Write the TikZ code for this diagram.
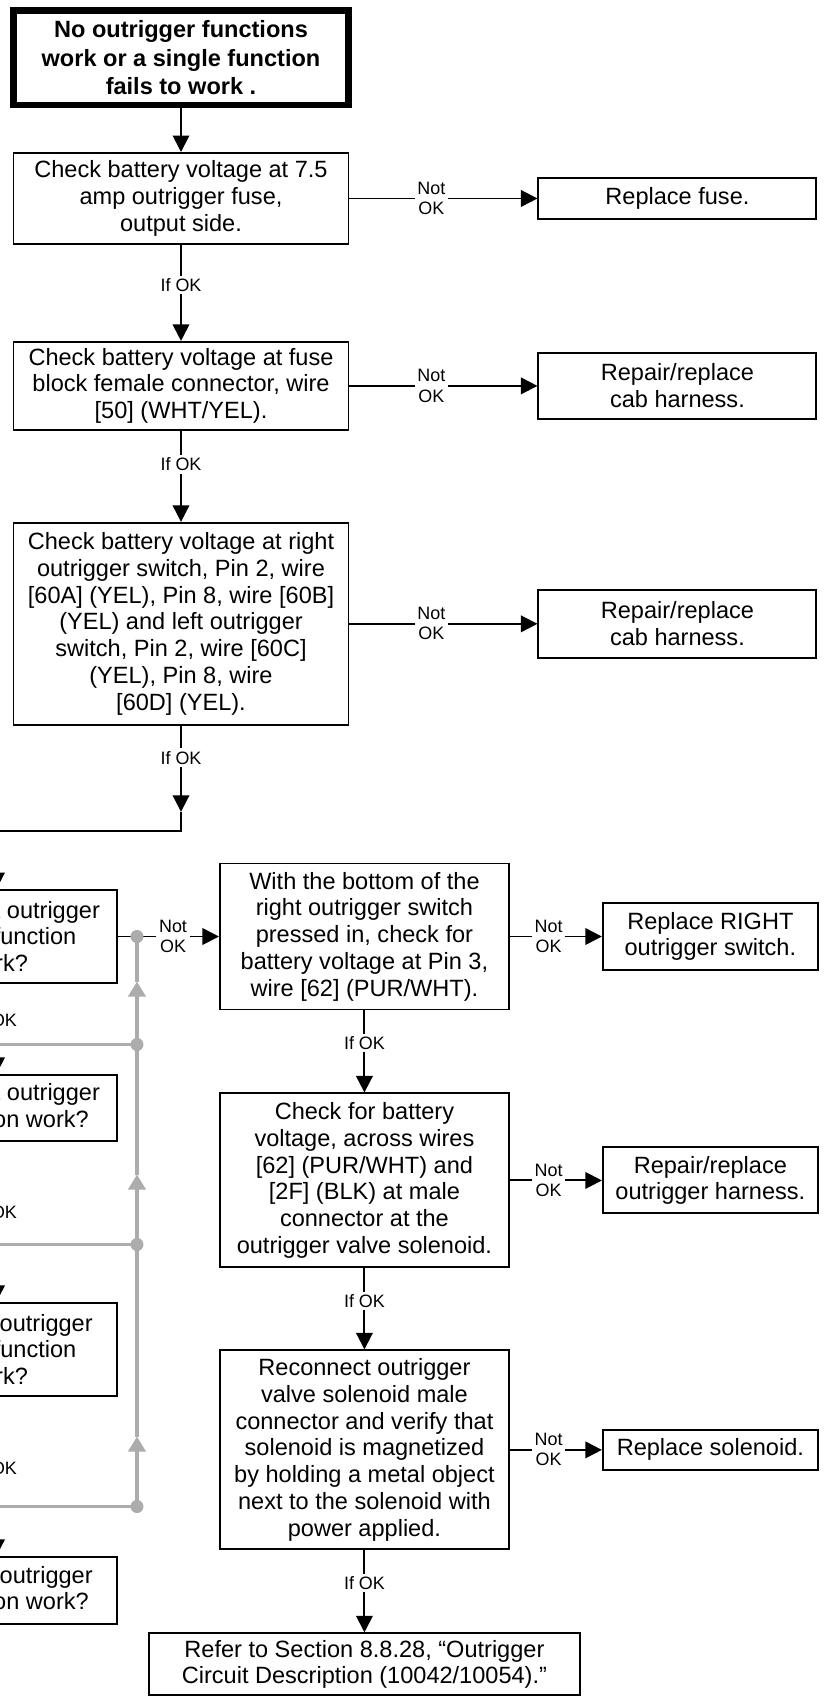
\documentclass[tikz,border=0pt]{standalone}
\usepackage{fontspec}
\setmainfont{Liberation Sans}
\usepackage{tikz}
\usetikzlibrary{arrows.meta,positioning}

\newcommand{\chkfont}{\fontsize{13.4pt}{15.2pt}\selectfont}
\newcommand{\okfont}{\fontsize{10.2pt}{11.4pt}\selectfont}

\begin{document}
\begin{tikzpicture}[
    startbox/.style={rectangle,draw,line width=0.13cm,minimum width=6.7cm,minimum height=1.89cm,
                     inner sep=0pt,align=center,font=\fontsize{13.4pt}{16.2pt}\selectfont\bfseries},
    chkbox/.style={rectangle,draw,line width=1.1pt,inner sep=0pt,align=center,font=\chkfont},
    mainbox/.style={chkbox,minimum width=6.7cm},
    fixbox/.style={chkbox,minimum width=5.56cm},
    askbox/.style={chkbox,minimum width=4.82cm},
    probebox/.style={chkbox,minimum width=5.78cm},
    repairbox/.style={chkbox,minimum width=4.3cm},
    ifok/.style={font=\okfont,fill=white,inner sep=1.5pt},
    notok/.style={font=\okfont,fill=white,inner sep=1.5pt,align=center},
    arrow/.style={-{Triangle[length=0.33cm,width=0.33cm]},line width=1.1pt},
    feed/.style={draw=gray!65,line width=2.1pt},
    feedtip/.style={feed,-{Triangle[length=0.3cm,width=0.34cm]}}
]
\useasboundingbox (0,0) rectangle (16.54,-33.94);
\clip (0,0) rectangle (16.54,-33.94);
\fill[white] (0,0) rectangle (16.54,-33.94);

% supply checks down the first column
\node[startbox] (start) at (3.62,-1.155) {No outrigger functions\\work or a single function\\fails to work .};
\node[mainbox,minimum height=1.82cm,below=0.875cm of start] (fusecheck)
    {Check battery voltage at 7.5\\amp outrigger fuse,\\output side.};
\node[mainbox,minimum height=1.76cm,below=1.92cm of fusecheck] (blockcheck)
    {Check battery voltage at fuse\\block female connector, wire\\{[50]} (WHT/YEL).};
\node[mainbox,minimum height=4.04cm,below=1.82cm of blockcheck] (switchcheck)
    {Check battery voltage at right\\outrigger switch, Pin 2, wire\\{[60A]} (YEL), Pin 8, wire [60B]\\(YEL) and left outrigger\\switch, Pin 2, wire [60C]\\(YEL), Pin 8, wire\\{[60D]} (YEL).};

\node[fixbox,minimum height=0.82cm,right=3.76cm of fusecheck] (newfuse) {Replace fuse.};
\node[fixbox,minimum height=1.32cm,right=3.76cm of blockcheck] (cabA) {Repair/replace\\cab harness.};
\node[fixbox,minimum height=1.36cm,right=3.76cm of switchcheck] (cabB) {Repair/replace\\cab harness.};

% per-function questions
\node[askbox,minimum height=1.86cm] (rdown) at (-0.07,-18.73) {Does right outrigger\\extend function\\work?};
\node[askbox,minimum height=1.32cm,below=1.8cm of rdown] (rup) {Does right outrigger\\up function work?};
\node[askbox,minimum height=1.86cm,below=3.2cm of rup] (ldown) {Does left outrigger\\extend function\\work?};
\node[askbox,minimum height=1.34cm,below=3.18cm of ldown] (lup) {Does left outrigger\\up function work?};

% switch and solenoid checks
\node[probebox,minimum height=2.92cm,right=2.02cm of rdown] (pin3)
    {With the bottom of the\\right outrigger switch\\pressed in, check for\\battery voltage at Pin 3,\\wire [62] (PUR/WHT).};
\node[probebox,minimum height=3.48cm,below=1.64cm of pin3] (valve)
    {Check for battery\\voltage, across wires\\{[62]} (PUR/WHT) and\\{[2F]} (BLK) at male\\connector at the\\outrigger valve solenoid.};
\node[probebox,minimum height=3.98cm,below=1.62cm of valve] (magnet)
    {Reconnect outrigger\\valve solenoid male\\connector and verify that\\solenoid is magnetized\\by holding a metal object\\next to the solenoid with\\power applied.};
\node[chkbox,minimum width=8.62cm,minimum height=1.24cm,below=1.64cm of magnet] (refer)
    {Refer to Section 8.8.28, “Outrigger\\Circuit Description (10042/10054).”};

\node[repairbox,minimum height=1.34cm,right=1.84cm of pin3] (newswitch) {Replace RIGHT\\outrigger switch.};
\node[repairbox,minimum height=1.32cm,right=1.84cm of valve] (harness) {Repair/replace\\outrigger harness.};
\node[repairbox,minimum height=0.8cm,right=1.84cm of magnet] (newsolenoid) {Replace solenoid.};

\coordinate[below=1.72cm of switchcheck] (drop);
\coordinate[below=2.1cm of switchcheck] (turn);

% black flow
\draw[arrow] (start) -- (fusecheck);
\draw[arrow] (fusecheck) -- node[ifok,pos=0.42] {If OK} (blockcheck);
\draw[arrow] (blockcheck) -- node[ifok,pos=0.37] {If OK} (switchcheck);
\draw[arrow] (switchcheck) -- node[ifok,pos=0.37] {If OK} (drop);
\draw[arrow] (drop) -- (turn) -| (rdown);
\draw[arrow] (fusecheck) -- node[notok,pos=0.436] {Not\\OK} (newfuse);
\draw[arrow] (blockcheck) -- node[notok,pos=0.436] {Not\\OK} (cabA);
\draw[arrow] (switchcheck) -- node[notok,pos=0.436] {Not\\OK} (cabB);

\draw[arrow] (rdown) -- node[ifok,pos=0.4] {If OK} (rup);
\draw[arrow] (rup) -- node[ifok,pos=0.44] {If OK} (ldown);
\draw[arrow] (ldown) -- node[ifok,pos=0.45] {If OK} (lup);
\draw[arrow] (rdown) -- node[notok,pos=0.545] {Not\\OK} (pin3);

\draw[arrow] (pin3) -- node[ifok,pos=0.4] {If OK} (valve);
\draw[arrow] (valve) -- node[ifok,pos=0.4] {If OK} (magnet);
\draw[arrow] (magnet) -- node[ifok,pos=0.4] {If OK} (refer);
\draw[arrow] (pin3) -- node[notok,pos=0.42] {Not\\OK} (newswitch);
\draw[arrow] (valve) -- node[notok,pos=0.42] {Not\\OK} (harness);
\draw[arrow] (magnet) -- node[notok,pos=0.42] {Not\\OK} (newsolenoid);

% grey feed from the other functions
\coordinate[right=0.38cm of rdown] (j0);
\coordinate[below=2.16cm of j0] (j1);
\coordinate[below=4.0cm of j1] (j2);
\coordinate[below=5.24cm of j2] (j3);
\coordinate[left=3.5cm of j1] (g1);
\coordinate[left=3.5cm of j2] (g2);
\coordinate[left=3.5cm of j3] (g3);
\coordinate[above=1.26cm of j1] (u1);
\coordinate[above=1.4cm of j2] (u2);
\coordinate[above=1.4cm of j3] (u3);

\draw[feed] (g1) -- (j1);
\draw[feed] (g2) -- (j2);
\draw[feed] (g3) -- (j3);
\draw[feedtip] (j3) -- (u3);
\draw[feed] (u3) -- (j2);
\draw[feedtip] (j2) -- (u2);
\draw[feed] (u2) -- (j1);
\draw[feedtip] (j1) -- (u1);
\draw[feed] (u1) -- (j0);
\foreach \j in {j0,j1,j2,j3}
    \fill[gray!65] (\j) circle (0.13cm);
\end{tikzpicture}
\end{document}
